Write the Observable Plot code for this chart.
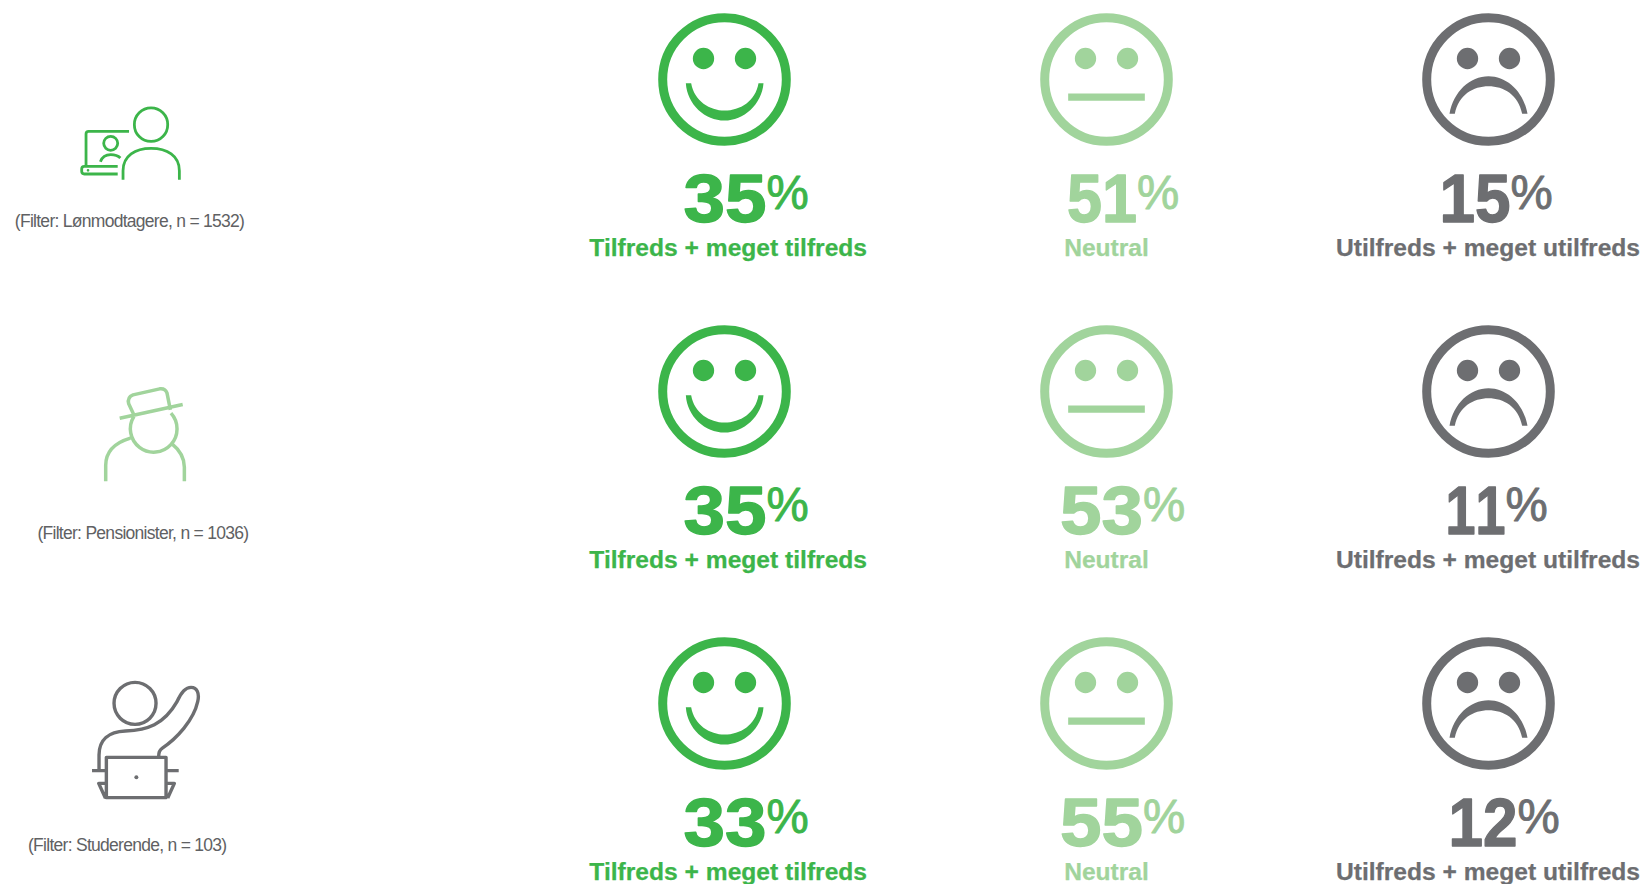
<!DOCTYPE html>
<html lang="da">
<head>
<meta charset="utf-8">
<script src="https://cdn.jsdelivr.net/npm/d3@7"></script>
<script src="https://cdn.jsdelivr.net/npm/@observablehq/plot@0.6"></script>
<style>
html,body{margin:0;padding:0;background:#fff;overflow:hidden}
svg{display:block}
.cap text{letter-spacing:-0.72px}
.num text{font-kerning:none}
</style>
</head>
<body>
<div id="chart"></div>
<script>
// Data
const groups = ["Lønmodtagere", "Pensionister", "Studerende"];
const sampleSizes = [1532, 1036, 103];
const answers = ["Tilfreds + meget tilfreds", "Neutral", "Utilfreds + meget utilfreds"];
const satisfied = [35, 35, 33];
const neutral = [51, 53, 55];
const dissatisfied = [15, 11, 12];

// Styling
const colors = ["#3cb54a", "#a1d49c", "#6d6e71"];
const iconWidths = [2.8, 3.5, 3.4];
const font = "Liberation Sans, Arial, sans-serif";
const splitOffset = {35: 42, 33: 42, 53: 36.5, 55: 36.5, 51: 30.6, 15: 22, 11: 17, 12: 29};
const numberWidth = {35: 83, 33: 83, 53: 83, 55: 83, 51: 70, 15: 71, 11: 60, 12: 69};
const captionDx = [-595, -581.6, -597.3];
const labelDx = [3.7, 0, -0.5];
const iconDx = -579.8;

// Drawing context helper: coordinates given in 3x units around an origin
const at = (c, ox, oy) => {
  const X = x => (x - ox) / 3, Y = y => (y - oy) / 3;
  return {
    M: (x, y) => c.moveTo(X(x), Y(y)),
    L: (x, y) => c.lineTo(X(x), Y(y)),
    Q: (a, b, x, y) => c.quadraticCurveTo(X(a), Y(b), X(x), Y(y)),
    C: (a, b, d, e, x, y) => c.bezierCurveTo(X(a), Y(b), X(d), Y(e), X(x), Y(y)),
    O: (x, y, r, a0 = 0, a1 = 2 * Math.PI) => { c.moveTo(X(x) + r / 3 * Math.cos(a0), Y(y) + r / 3 * Math.sin(a0)); c.arc(X(x), Y(y), r / 3, a0, a1); },
    Z: () => c.closePath()
  };
};
const eyes = (p, ox, oy) => { p.O(ox - 63, oy - 63, 32); p.O(ox + 63, oy - 63, 32); };
const faceSymbols = [
  {draw(c) { const p = at(c, 463, 235); eyes(p, 463, 235);
    p.M(347, 246); p.L(363, 246); p.C(372, 300, 420, 328, 463, 328); p.C(510, 328, 556, 300, 565, 246); p.L(580, 246);
    p.C(575, 310, 520, 358, 463, 358); p.C(405, 358, 351, 310, 347, 246); p.Z(); }},
  {draw(c) { const p = at(c, 463, 235); eyes(p, 463, 235);
    p.M(348, 277); p.L(578, 277); p.L(578, 299); p.L(348, 299); p.Z(); }},
  {draw(c) { const p = at(c, 505, 235); eyes(p, 505, 235);
    p.M(388, 338); p.L(404, 338); p.C(415, 280, 460, 255, 505, 255); p.C(550, 255, 595, 280, 606, 338); p.L(622, 338);
    p.C(610, 270, 560, 225, 505, 225); p.C(450, 225, 400, 270, 388, 338); p.Z(); }}
];
const iconSymbols = [
  {draw(c) { const p = at(c, 433, -3.5);
    p.O(452, 132, 50);
    p.M(368, 297); p.L(368, 270); p.C(368, 225, 405, 203, 452, 203); p.C(500, 203, 537, 225, 537, 270); p.L(537, 297);
    p.M(386, 152); p.L(265, 152); p.Q(257, 152, 257, 160); p.L(257, 255);
    p.M(352, 257); p.L(252, 257); p.Q(244, 257, 244, 265); p.L(244, 272); p.Q(244, 280, 252, 280); p.L(352, 280);
    p.O(331, 188, 21);
    p.M(300, 243); p.Q(308, 222, 331, 222); p.Q(350, 222, 360, 232); }},
  {draw(c) { const p = at(c, 433, 63);
    p.O(460, 175, 70, Math.atan2(-50, 55), Math.atan2(-38, -60) + 2 * Math.PI);
    p.M(400, 132); p.L(385, 100); p.Q(380, 80, 398, 73); p.L(478, 55); p.Q(495, 53, 500, 68); p.L(510, 118);
    p.M(358, 143); p.L(547, 102);
    p.M(316, 332); p.L(316, 285); p.Q(316, 225, 390, 203);
    p.M(515, 220); p.Q(552, 250, 552, 290); p.L(552, 332); }},
  {draw(c) { const p = at(c, 433, 100.5);
    p.O(404, 100, 63);
    p.M(296, 300); p.L(296, 255); p.C(296, 210, 325, 185, 375, 183); p.C(440, 180, 490, 165, 530, 95);
    p.C(545, 60, 560, 52, 572, 52); p.C(590, 52, 598, 70, 592, 95); p.C(580, 150, 530, 205, 485, 235); p.Q(475, 242, 475, 258);
    p.M(318, 262); p.L(497, 262); p.L(497, 383); p.L(318, 383); p.Z();
    p.M(275, 302); p.L(315, 302); p.M(500, 302); p.L(535, 302);
    p.M(318, 340); p.L(295, 340); p.L(315, 384);
    p.M(497, 340); p.L(522, 340); p.L(502, 384); }}
];
const iconDots = [
  {draw(c) { at(c, 433, -3.5).O(263, 269, 4); }},
  {draw() {}},
  {draw(c) { at(c, 433, 100.5).O(408, 322, 6); }}
];

const cells = groups.flatMap((g, i) => [satisfied[i], neutral[i], dissatisfied[i]]
  .map((v, j) => ({group: g, answer: answers[j], value: v, row: i, col: j})));
const rowsData = groups.map((g, i) => ({group: g, n: sampleSizes[i], row: i}));

const X = d => d.answer, Y = d => d.group;

const marks = [
  Plot.dot(cells, {x: X, y: Y, r: 61.8, fill: "none", stroke: d => colors[d.col], strokeWidth: 9}),
  ...answers.map((a, j) => Plot.dot(cells.filter(d => d.col === j), {x: X, y: Y, symbol: faceSymbols[j], fill: colors[j], stroke: "none"})),
  ...cells.flatMap(d => [
    Plot.text([d], {x: X, y: Y, text: e => String(e.value), dx: splitOffset[d.value], dy: 142.5, textAnchor: "end", lineAnchor: "bottom",
      fontFamily: font, fontWeight: 700, fontSize: 69, fill: colors[d.col], stroke: colors[d.col], strokeWidth: 1.4, className: "num"}),
    Plot.text([d], {x: X, y: Y, text: () => "%", dx: splitOffset[d.value], dy: 129.5, textAnchor: "start", lineAnchor: "bottom",
      fontFamily: font, fontWeight: 400, fontSize: 47.5, fill: colors[d.col], stroke: colors[d.col], strokeWidth: 0.9}),
    Plot.text([d], {x: X, y: Y, text: X, dx: labelDx[d.col], dy: 176.5, textAnchor: "middle", lineAnchor: "bottom",
      fontFamily: font, fontWeight: 700, fontSize: 24.6, fill: colors[d.col], stroke: colors[d.col], strokeWidth: 0.25})
  ]),
  ...rowsData.flatMap(d => [
    Plot.dot([d], {x: () => answers[0], y: Y, dx: iconDx, symbol: iconSymbols[d.row], fill: "none",
      stroke: colors[d.row], strokeWidth: iconWidths[d.row], strokeLinejoin: "round"}),
    Plot.dot([d], {x: () => answers[0], y: Y, dx: iconDx, symbol: iconDots[d.row], fill: colors[d.row], stroke: "none"}),
    Plot.text([d], {x: () => answers[0], y: Y, text: e => `(Filter: ${e.group}, n = ${e.n})`, dx: captionDx[d.row], dy: 147,
      textAnchor: "middle", lineAnchor: "bottom", fontFamily: font, fontSize: 17.5, fill: "#606163", className: "cap"})
  ])
];

const chart = Plot.plot({
  width: 1645, height: 884, margin: 0,
  x: {type: "point", domain: answers, range: [723.3, 1489], padding: 0, axis: null},
  y: {type: "point", domain: groups, range: [78.5, 703.5], padding: 0, axis: null},
  style: {background: "#fff"},
  marks
});
// Big numerals are a wider grotesque in the reference: scale each about its anchor to its measured width
const naturalWidth = 2 * 0.556 * 69;
d3.select(chart).selectAll(".num text").each(function() {
  const t = d3.select(this);
  t.attr("transform", `${t.attr("transform") || ""} scale(${numberWidth[this.textContent] / naturalWidth},1)`);
});
document.getElementById("chart").append(chart);
</script>
</body>
</html>
